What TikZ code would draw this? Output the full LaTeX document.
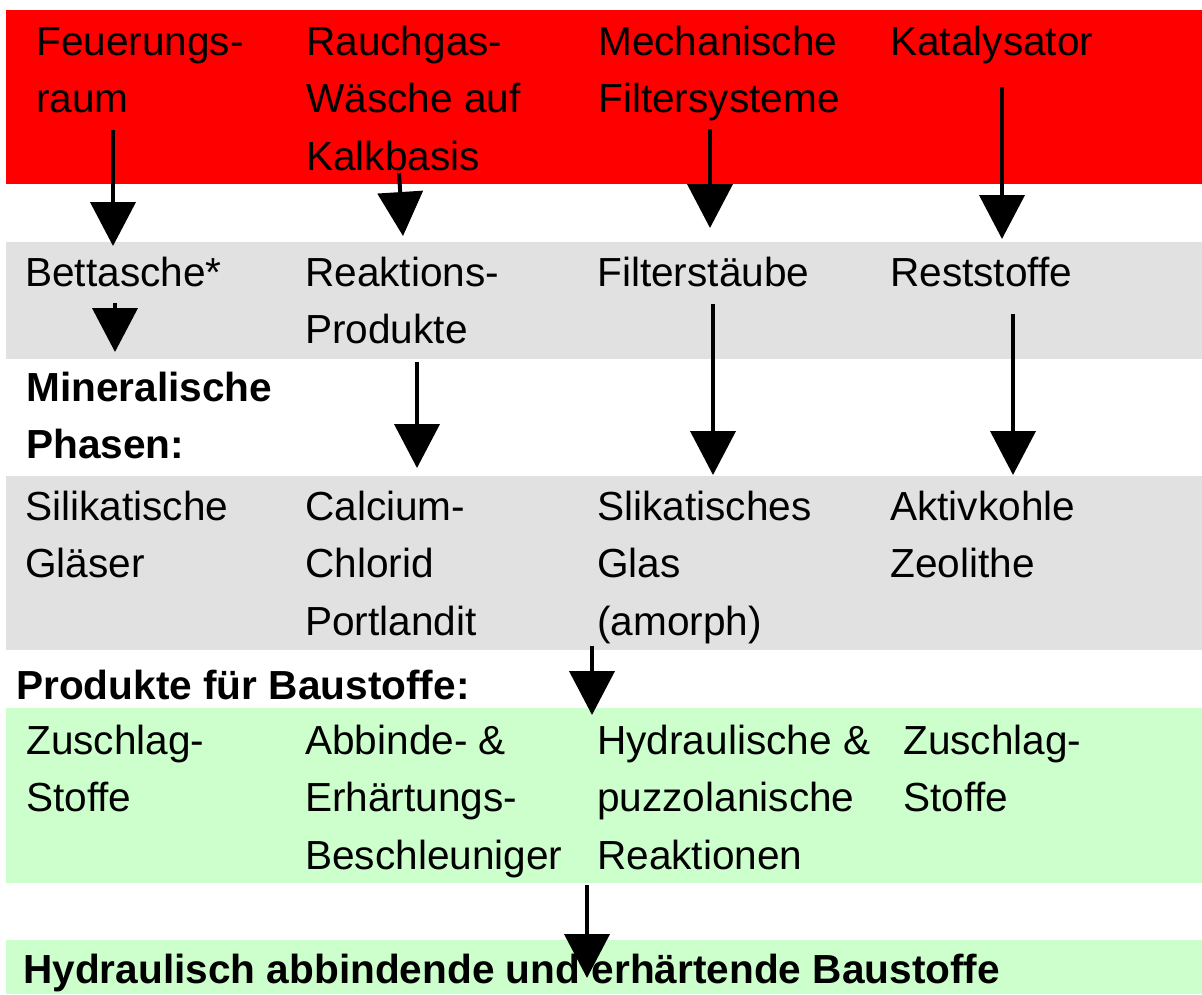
\documentclass[tikz,border=0pt]{standalone}
\usepackage{fontspec}
\setmainfont{Liberation Sans}
\usetikzlibrary{arrows.meta}
\definecolor{bandred}{RGB}{255,0,0}
\definecolor{bandgray}{RGB}{225,225,225}
\definecolor{bandgreen}{RGB}{204,255,204}
\newcommand\mytxt[1]{\parbox[t]{330pt}{\raggedright #1}}
\begin{document}
\begin{tikzpicture}[x=1pt,y=-1pt,
  lbl/.style={anchor=base west, inner sep=0pt, font=\fontsize{40.6}{57.5}\selectfont},
  blbl/.style={anchor=base west, inner sep=0pt, font=\fontsize{40.6}{57.5}\selectfont\bfseries},
  bigarrow/.style={line width=4pt, -{Triangle[length=44pt,width=45pt]}}]
\useasboundingbox (0,0) rectangle (1202,994);
% bands
\fill[bandred]   (6,10)  rectangle (1202,184);
\fill[bandgray]  (6,242) rectangle (1202,359);
\fill[bandgray]  (6,476) rectangle (1202,650);
\fill[bandgreen] (6,708) rectangle (1202,883);
\fill[bandgreen] (6,940) rectangle (1202,994);
% red row
\node[lbl] (r1) at (36,55)  {\mytxt{Feuerungs-\\raum}};
\node[lbl] (r2) at (306,55) {\mytxt{Rauchgas-\\Wäsche auf\\Kalkbasis}};
\node[lbl] (r3) at (598,55) {\mytxt{Mechanische\\Filtersysteme}};
\node[lbl] (r4) at (890,55) {\mytxt{Katalysator}};
% gray row 1
\node[lbl] (g1) at (25,286)  {\mytxt{Bettasche*}};
\node[lbl] (g2) at (305,286) {\mytxt{Reaktions-\\Produkte}};
\node[lbl] (g3) at (597,286) {\mytxt{Filterstäube}};
\node[lbl] (g4) at (890,286) {\mytxt{Reststoffe}};
% heading
\node[blbl] (h1) at (26,401) {\mytxt{Mineralische\\Phasen:}};
% gray row 2
\node[lbl] (m1) at (25,520)  {\mytxt{Silikatische\\Gläser}};
\node[lbl] (m2) at (305,520) {\mytxt{Calcium-\\Chlorid\\Portlandit}};
\node[lbl] (m3) at (597,520) {\mytxt{Slikatisches\\Glas\\(amorph)}};
\node[lbl] (m4) at (890,520) {\mytxt{Aktivkohle\\Zeolithe}};
% heading
\node[blbl] (h2) at (16,699) {Produkte für Baustoffe:};
% green row
\node[lbl] (p1) at (26,754)  {\mytxt{Zuschlag-\\Stoffe}};
\node[lbl] (p2) at (305,754) {\mytxt{Abbinde- \&\\Erhärtungs-\\Beschleuniger}};
\node[lbl] (p3) at (597,754) {\mytxt{Hydraulische \&\\puzzolanische\\Reaktionen}};
\node[lbl] (p4) at (903,754) {\mytxt{Zuschlag-\\Stoffe}};
% final
\node[blbl] (fin) at (23,983) {Hydraulisch abbindende und erhärtende Baustoffe};
% arrow end points
\coordinate (a1s) at (113,130);  \coordinate (a1e) at (113,246);
\coordinate (a2s) at (399,173);  \coordinate (a2e) at (403,236);
\coordinate (a3s) at (710,129);  \coordinate (a3e) at (710,228);
\coordinate (a4s) at (1002,87);  \coordinate (a4e) at (1002,239);
\coordinate (a5s) at (115,303);  \coordinate (a5e) at (115,352);
\coordinate (a6s) at (417,362);  \coordinate (a6e) at (417,468);
\coordinate (a7s) at (713,304);  \coordinate (a7e) at (713,475);
\coordinate (a8s) at (1013,314); \coordinate (a8e) at (1013,475);
\coordinate (a9s) at (592,646);  \coordinate (a9e) at (592,715);
\coordinate (a10s) at (587,885); \coordinate (a10e) at (587,978);
% arrows
\foreach \i in {1,...,10} \draw[bigarrow] (a\i s) -- (a\i e);
\end{tikzpicture}
\end{document}
